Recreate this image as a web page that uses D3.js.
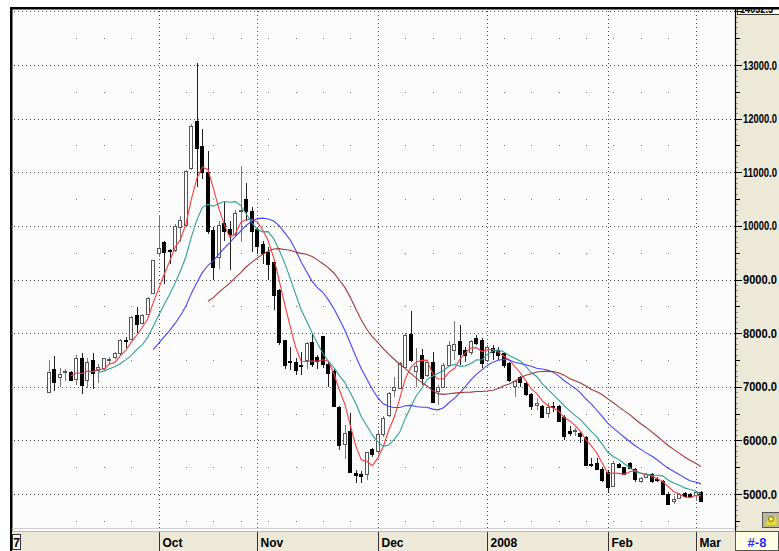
<!DOCTYPE html>
<html lang="en">
<head>
<meta charset="utf-8">
<title>Index daily candles with moving averages</title>
<script src="https://d3js.org/d3.v7.min.js"></script>
<style>
  body { margin: 0; background: #fff; }
  .ylab { font-family: "Liberation Sans Narrow", "Arial Narrow", "Liberation Sans", sans-serif; font-weight: bold; font-size: 12px; fill: #000; }
  .xlab { font-family: "Liberation Sans Narrow", "Arial Narrow", "Liberation Sans", sans-serif; font-weight: bold; font-size: 12px; fill: #000; }
</style>
</head>
<body>
<svg id="chart" width="779" height="551"></svg>
<script>

// ---- data (Sep 2007 .. 4 Mar 2008, one entry per trading day) ----
const opens = [
  // Sep
  6907,7323,7186,7280,7280,7137,7528,7137,7497,7298,7342,7490,7540,7621,7869,7900,8335,8180,8366,8751,
  // Oct
  9496,9701,9546,9546,9993,10012,11068,11956,11484,11006,9932,9404,10057,9945,9851,10280,10503,10286,
  // Nov
  9945,9665,9510,9326,8799,7869,7478,7466,7404,7497,7838,7547,7950,7423,7299,6629,5935,6183,5389,5376,5375,5831,
  // Dec
  5813,6125,6469,6938,6988,7375,7988,7300,7594,7219,7469,6906,6988,7406,7688,7844,7688,7638,7906,7875,
  // Jan
  7500,7731,7688,7625,7438,7013,7175,7065,6860,6661,6642,6517,6642,6642,6430,6181,6162,6131,6069,5558,5570,5458,
  // Feb
  5415,5150,5558,5496,5583,5458,5228,5309,5371,5271,5246,5009,4872,4934,5022,5009,
  // Mar
  4966,5040
];
const highs = [
  7497,7571,7342,7323,7290,7590,7621,7528,7621,7422,7540,7559,7646,7882,7919,8316,8490,8348,8677,9372,
  10211,9710,9577,10043,10192,11037,11900,13036,11800,11400,9975,10100,10441,10100,10298,11125,10795,10348,
  9975,9727,9603,9360,8830,7881,7745,7528,7652,7838,7993,7590,7955,7466,7342,6641,6288,6505,5451,5420,5792,5864,
  6193,6454,6907,7188,7469,8000,8406,7719,7700,7500,7656,7031,7438,7844,8219,8156,7750,7863,7969,7906,
  7781,7781,7750,7656,7469,7125,7200,7090,6879,6785,6661,6692,6723,6661,6474,6268,6224,6162,6081,5664,5664,5508,
  5446,5610,5570,5508,5600,5477,5321,5384,5384,5321,5259,5040,4966,5022,5028,5022,
  5059,5059
];
const lows = [
  6888,6925,7000,7112,7124,7031,6857,6969,6950,7075,7310,7422,7515,7590,7714,7882,7994,8161,8335,8739,
  9422,8925,9298,9515,9701,9981,11037,10726,10881,9850,8982,9200,9727,9168,9789,9700,10100,9510,
  9479,9293,8982,8427,7780,7323,7311,7218,7218,7323,7373,7323,7342,7001,6629,5823,5649,5389,5203,5203,5253,5684,
  5740,6069,6442,6813,6975,7344,7469,6988,7031,7188,6688,6656,6969,7388,7500,7406,7469,7594,7781,7344,
  7469,7500,7500,7344,7094,6813,7000,6829,6567,6567,6411,6411,6536,6349,6006,6081,6081,5944,5520,5508,5446,5228,
  5022,5140,5480,5346,5477,5221,5209,5296,5209,5228,4997,4810,4810,4916,4947,4947,
  4872,4847
];
const closes = [
  7280,7081,7236,7298,7137,7528,7031,7466,7248,7360,7528,7510,7621,7869,7851,8304,8161,8335,8664,9360,
  9596,9515,9534,9993,10117,11018,11860,11459,11006,9914,9249,10007,9914,9851,10236,10300,10286,9914,
  9634,9497,9293,8706,7820,7404,7454,7311,7385,7807,7435,7466,7423,7249,6641,5916,6146,5420,5358,5340,5781,5738,
  6125,6425,6875,6988,7450,7969,7500,7388,7156,7469,6719,6988,7406,7781,7800,7594,7594,7844,7813,7438,
  7750,7656,7594,7406,7125,7106,7075,6866,6642,6692,6430,6629,6617,6368,6081,6144,6187,6081,5539,5539,5458,5246,
  5134,5585,5496,5371,5496,5271,5290,5371,5246,5246,5009,4822,4916,5009,4959,4959,
  5028,4872
];

// first trading day of each month (index into the arrays) and its label
const monthStarts = [20, 38, 60, 80, 102, 118];
const monthLabels = ["Oct", "Nov", "Dec", "2008", "Feb", "Mar"];
// mondays (weekly minor grid)
const weekStarts = [5,10,15,25,30,35,40,45,50,55,65,70,75,83,88,93,98,103,108,113];

const maPeriods = [5, 10, 20, 30];
const maColors = ["#ff3a3a", "#2f9f99", "#4444ff", "#a23838"];

const lastValue = "14032.5";
const cornerLabel = "#-8";

// ---- layout ----
const W = 779, H = 551;
const plotL = 12, plotR = 735, plotT = 9, plotB = 530;

const svg = d3.select("#chart");

const x = d3.scaleLinear()
    .domain([0, closes.length - 1])
    .range([49, 701]);

const y = d3.scaleLinear()
    .domain([5000, 13000])
    .range([494, 65]);

const px = v => Math.round(v) + 0.5;

// backgrounds
svg.append("rect").attr("width", W).attr("height", H).attr("fill", "#fff");
svg.append("rect")
    .attr("x", plotL).attr("y", plotT)
    .attr("width", plotR - plotL).attr("height", plotB - plotT)
    .attr("fill", "#fcfcfc");
svg.append("rect")
    .attr("x", plotR).attr("y", plotT)
    .attr("width", W - plotR).attr("height", plotB - plotT + 2)
    .attr("fill", "#ece9d8");

// top-right last value box (drawn before frame so the frame clips it)
svg.append("rect")
    .attr("x", plotR + 2.5).attr("y", 3.5)
    .attr("width", W - plotR).attr("height", 11)
    .attr("fill", "#fffff0").attr("stroke", "#333");
svg.append("text")
    .attr("class", "ylab")
    .attr("x", plotR + 5).attr("y", 13)
    .attr("textLength", 33)
    .attr("lengthAdjust", "spacingAndGlyphs")
    .text(lastValue);

// grid
const grid = svg.append("g").attr("shape-rendering", "crispEdges");

grid.selectAll("line.h")
    .data(d3.range(5000, 14001, 1000))
    .join("line")
    .attr("class", "h")
    .attr("x1", plotL + 2).attr("x2", plotR)
    .attr("y1", d => px(y(d))).attr("y2", d => px(y(d)))
    .attr("stroke", "#444")
    .attr("stroke-dasharray", "1,3");

grid.selectAll("line.v")
    .data(monthStarts)
    .join("line")
    .attr("class", "v")
    .attr("x1", d => px(x(d))).attr("x2", d => px(x(d)))
    .attr("y1", plotT + 2).attr("y2", plotB)
    .attr("stroke", "#444")
    .attr("stroke-dasharray", "1,3");

const halfLevels = d3.range(4500, 14000, 1000);
grid.selectAll("rect.dot")
    .data(d3.cross(halfLevels, weekStarts))
    .join("rect")
    .attr("class", "dot")
    .attr("x", d => Math.round(x(d[1])))
    .attr("y", d => Math.round(y(d[0])))
    .attr("width", 1).attr("height", 1)
    .attr("fill", "#777");

// candles
const idx = d3.range(closes.length);
const candles = svg.append("g").attr("shape-rendering", "crispEdges");

candles.selectAll("line.wick")
    .data(idx)
    .join("line")
    .attr("class", "wick")
    .attr("x1", i => px(x(i))).attr("x2", i => px(x(i)))
    .attr("y1", i => Math.round(y(highs[i]))).attr("y2", i => Math.round(y(lows[i])))
    .attr("stroke", i => closes[i] >= opens[i] ? "#777" : "#222");

candles.selectAll("rect.body")
    .data(idx)
    .join("rect")
    .attr("class", "body")
    .attr("x", i => Math.round(x(i)) - 1.5)
    .attr("y", i => px(y(Math.max(opens[i], closes[i]))))
    .attr("width", 3)
    .attr("height", i => Math.max(1, Math.round(Math.abs(y(opens[i]) - y(closes[i])))))
    .attr("fill", i => closes[i] >= opens[i] ? "#fff" : "#000")
    .attr("stroke", i => closes[i] >= opens[i] ? "#555" : "#000");

// moving averages of the closes
const line = d3.line()
    .defined(d => d != null)
    .x((d, i) => x(i))
    .y(d => y(d));

maPeriods.forEach((n, k) => {
  const ma = closes.map((c, i) => i < n - 1 ? null : d3.mean(closes.slice(i - n + 1, i + 1)));
  svg.append("path")
      .datum(ma)
      .attr("d", line)
      .attr("fill", "none")
      .attr("stroke", maColors[k])
      .attr("stroke-width", 1.1);
});

// frame
svg.append("rect").attr("x", 0).attr("y", 0).attr("width", W).attr("height", 7).attr("fill", "#fff");
svg.append("rect").attr("x", 10).attr("y", 7).attr("width", W - 10).attr("height", 2.5).attr("fill", "#000");
svg.append("rect").attr("x", 10).attr("y", 7).attr("width", 2.5).attr("height", H - 7).attr("fill", "#000");
svg.append("line")
    .attr("x1", plotR + 0.5).attr("x2", plotR + 0.5)
    .attr("y1", plotT).attr("y2", H)
    .attr("stroke", "#000").attr("stroke-width", 1.2);

// right axis: ticks every 100, labels every 1000
const yAxis = svg.append("g").attr("shape-rendering", "crispEdges");
yAxis.selectAll("line")
    .data(d3.range(4400, 14001, 100))
    .join("line")
    .attr("x1", plotR + 1)
    .attr("x2", d => plotR + 1 + (d % 1000 === 0 ? 6 : d % 500 === 0 ? 4 : 2))
    .attr("y1", d => px(y(d))).attr("y2", d => px(y(d)))
    .attr("stroke", d => d % 500 === 0 ? "#000" : "#888");

yAxis.selectAll("text")
    .data(d3.range(5000, 13001, 1000))
    .join("text")
    .attr("class", "ylab")
    .attr("x", plotR + 8)
    .attr("y", d => y(d) + 4.5)
    .attr("textLength", 34)
    .attr("lengthAdjust", "spacingAndGlyphs")
    .text(d => d.toFixed(1));

// small icon above the corner box
const icon = svg.append("g").attr("transform", "translate(762,512)");
icon.append("rect").attr("x", 0.5).attr("y", 0.5).attr("width", 17).attr("height", 15)
    .attr("fill", "#b9b79a").attr("stroke", "#555");
icon.append("path").attr("d", "M3,13 L7,5 L10,9 L14,3 L15,13 Z").attr("fill", "#e8d830");
icon.append("circle").attr("cx", 9).attr("cy", 7).attr("r", 2.5).attr("fill", "#fff26a").attr("stroke", "#7a6a10");

// bottom axis band
svg.append("rect")
    .attr("x", plotL).attr("y", plotB + 1)
    .attr("width", W - plotL).attr("height", H - plotB - 1)
    .attr("fill", "#ece9d8");
svg.append("line")
    .attr("x1", plotL).attr("x2", plotR)
    .attr("y1", plotB - 1.5).attr("y2", plotB - 1.5)
    .attr("stroke", "#cfcfcf");
svg.append("line")
    .attr("x1", plotL).attr("x2", W)
    .attr("y1", plotB + 1.5).attr("y2", plotB + 1.5)
    .attr("stroke", "#bdbaa8");

const xAxis = svg.append("g").attr("shape-rendering", "crispEdges");
xAxis.selectAll("line")
    .data(monthStarts)
    .join("line")
    .attr("x1", d => px(x(d))).attr("x2", d => px(x(d)))
    .attr("y1", plotB + 2).attr("y2", H)
    .attr("stroke", "#333");
xAxis.selectAll("text")
    .data(monthStarts)
    .join("text")
    .attr("class", "xlab")
    .attr("x", d => px(x(d)) + 3)
    .attr("y", 547)
    .text((d, i) => monthLabels[i]);

// left truncated year box
svg.append("rect")
    .attr("x", 12.5).attr("y", 534.5).attr("width", 8).attr("height", 15)
    .attr("fill", "#f7f5ea").attr("stroke", "#333");
svg.append("text")
    .attr("class", "xlab")
    .attr("x", 20).attr("y", 547)
    .attr("text-anchor", "end")
    .text("7");

// corner box
svg.append("rect")
    .attr("x", plotR + 0.5).attr("y", plotB + 1.5)
    .attr("width", W - plotR - 1).attr("height", H - plotB - 2)
    .attr("fill", "#ffffe6").attr("stroke", "#555");
svg.append("text")
    .attr("x", 757).attr("y", 547)
    .attr("text-anchor", "middle")
    .attr("font-family", "Liberation Sans Narrow, Arial Narrow, Liberation Sans, sans-serif")
    .attr("font-weight", "bold")
    .attr("font-size", 13)
    .attr("fill", "#2b2bff")
    .text(cornerLabel);

</script>
</body>
</html>
